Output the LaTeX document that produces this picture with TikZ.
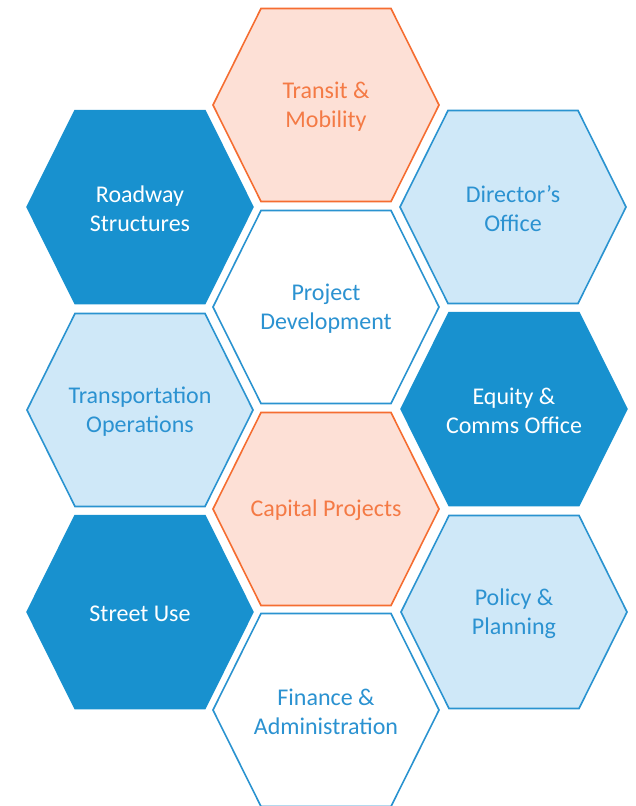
\documentclass[tikz,border=0pt]{standalone}
\usepackage{fontspec}
\setmainfont{Carlito}
\definecolor{darkb}{HTML}{1891CF}
\definecolor{lightb}{HTML}{CFE8F8}
\definecolor{edgeb}{HTML}{2A93D0}
\definecolor{peach}{HTML}{FDE0D6}
\definecolor{orng}{HTML}{F56D31}
\definecolor{orngtxt}{HTML}{F47A45}
\definecolor{bluetxt}{HTML}{2B92D1}
\newcommand{\hexcell}[5]{%
  \draw[#4] (#2-113,#3) -- ++(48,-96.5) -- ++(130,0) -- ++(48,96.5) -- ++(-48,96.5) -- ++(-130,0) -- cycle;
  \node[#4,hextext] (#1) at (#2,#3+1.5) {#5};}
\begin{document}
\begin{tikzpicture}[x=1pt,y=-1pt,
  hextext/.style={draw=none,fill=none,align=center,font=\fontsize{24}{29}\selectfont},
  hexdark/.style={fill=darkb,draw=darkb,line width=1.5pt,text=white},
  hexlight/.style={fill=lightb,draw=edgeb,line width=1.6pt,text=bluetxt},
  hexorange/.style={fill=peach,draw=orng,line width=1.6pt,text=orngtxt},
  hexwhite/.style={fill=white,draw=edgeb,line width=1.6pt,text=bluetxt}]
\useasboundingbox (0,0) rectangle (636,806);
\hexcell{transit}{326}{105}{hexorange}{Transit \&\\Mobility}
\hexcell{projdev}{326}{307}{hexwhite}{Project\\Development}
\hexcell{capital}{326}{509}{hexorange}{Capital Projects}
\hexcell{finance}{326}{710}{hexwhite}{Finance \&\\Administration}
\hexcell{roadway}{140}{207}{hexdark}{Roadway\\Structures}
\hexcell{transops}{140}{410}{hexlight}{Transportation\\Operations}
\hexcell{streetuse}{140}{612}{hexdark}{Street Use}
\hexcell{director}{513}{207}{hexlight}{Director’s\\Office}
\hexcell{equity}{514}{409}{hexdark}{Equity \&\\Comms Office}
\hexcell{policy}{514}{612}{hexlight}{Policy \&\\Planning}
\end{tikzpicture}
\end{document}
